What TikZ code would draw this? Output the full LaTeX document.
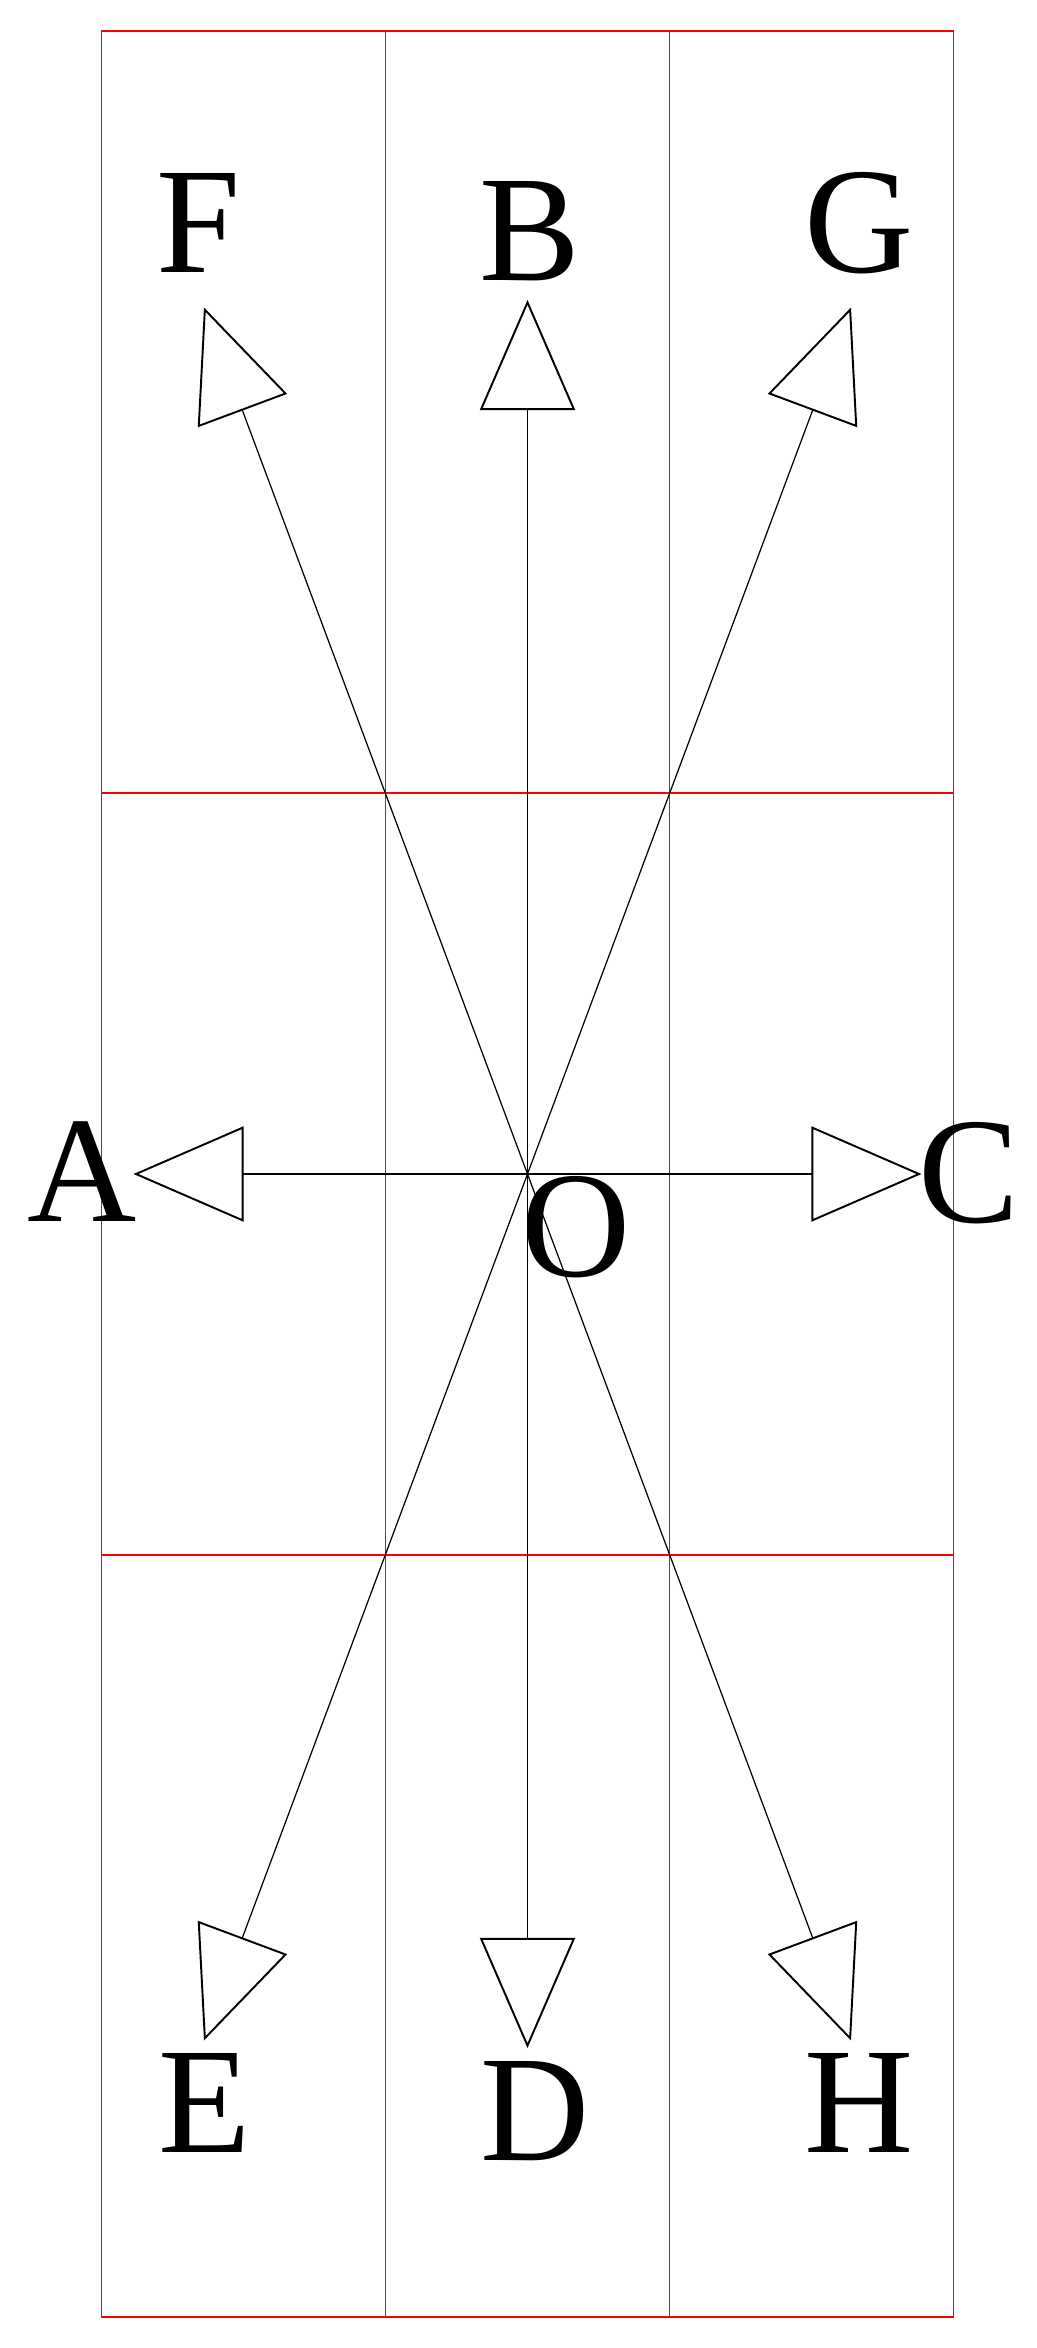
\documentclass[tikz,border=0pt]{standalone}
\usepackage{fontspec}
\setmainfont{Liberation Serif}
\usetikzlibrary{arrows.meta}

\tikzset{
  gridline/.style={draw=red, line width=0.45pt},
  vec/.style={line width=0.35pt,
    -{Triangle[open, length=1.1cm, width=0.95cm, line width=0.55pt]}},
  letter/.style={inner sep=0pt, font=\fontsize{43}{43}\selectfont},
}

\begin{document}
\begin{tikzpicture}[x=0.01cm, y=0.01cm]
  \useasboundingbox (-527.5,-1174) rectangle (509.5,1174);
  % red frame, 3 by 3 cells
  \foreach \gx in {-426,-142,142,426}
    \draw[gridline] (\gx,-1143) -- (\gx,1143);
  \foreach \gy in {-1143,-381,381,1143}
    \draw[gridline] (-426,\gy) -- (426,\gy);
  % origin
  \coordinate (o) at (0,0);
  \node[letter] (lO) at (49,-53) {O};
  % tips of the eight vectors and their letters
  \foreach \name/\tx/\ty/\lx/\ly in {
      A/-394/0/-445/2,
      B/0/874/2.5/943,
      C/394/0/441/1,
      D/0/-874/8/-937,
      E/-323.5/-866.5/-323/-929,
      F/-323.5/866.5/-329/950.5,
      G/323.5/866.5/332/950.5,
      H/323.5/-866.5/332/-929
    } {
      \coordinate (t\name) at (\tx,\ty);      % free end of the vector
      \node[letter] (l\name) at (\lx,\ly) {\name};
      \draw[vec] (o) -- (t\name);
    };
\end{tikzpicture}
\end{document}
